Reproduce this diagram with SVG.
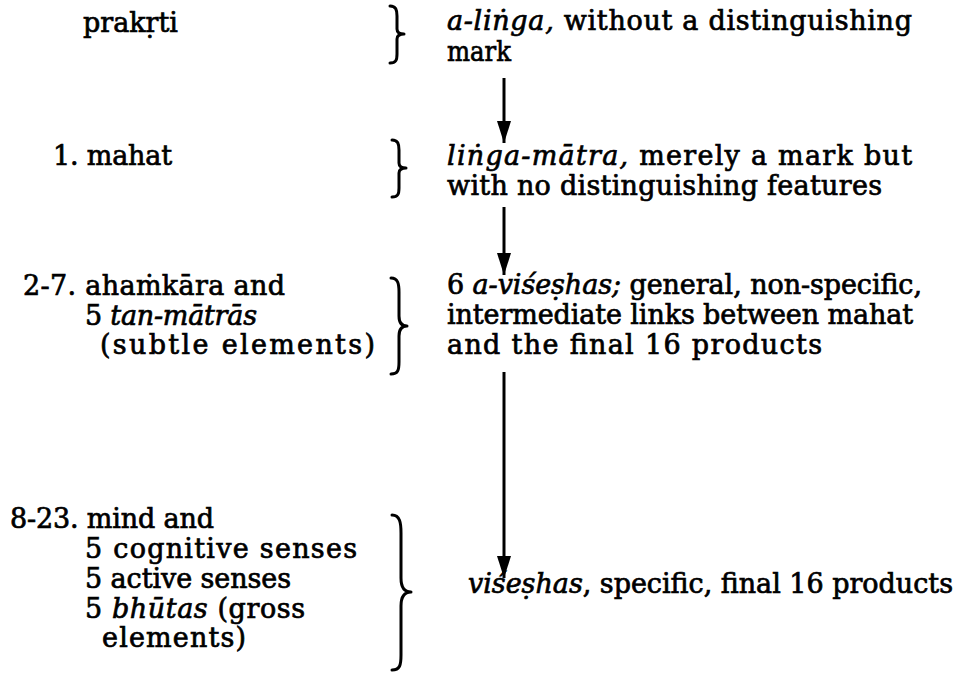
<svg xmlns="http://www.w3.org/2000/svg" width="962" height="674" viewBox="0 0 962 674">
<style>
  text { font-family: "DejaVu Serif", "Liberation Serif", serif; font-size: 27px; fill: #000; stroke: #000; stroke-width: 0.7; }
  .it { font-style: italic; }
  .brace { fill: none; stroke: #000; stroke-width: 3; stroke-linecap: round; stroke-linejoin: round; }
  .conn { stroke: #000; stroke-width: 3; fill: none; }
</style>
<defs>
  <marker id="ah" markerUnits="userSpaceOnUse" viewBox="0 0 22 14" refX="22" refY="7" markerWidth="22" markerHeight="14" orient="auto">
    <path d="M0,0 L22,7 L0,14 z" fill="#000"/>
  </marker>
</defs>
<rect width="962" height="674" fill="#fff"/>

<g id="left-prakrti">
  <text x="83" y="32" textLength="95">prakṛti</text>
  <path class="brace" d="M390,6 C396,6 397,10 397,16 L397,29 C397,32 399,34 404,34 C399,34 397,36 397,39 L397,54 C397,60 396,63 390,63"/>
</g>
<g id="left-mahat">
  <text x="53" y="165" textLength="119">1. mahat</text>
  <path class="brace" d="M392,140 C398,140 399,144 399,150 L399,163 C399,166 401,168 406,168 C401,168 399,170 399,173 L399,188 C399,194 398,197 392,197"/>
</g>
<g id="left-ahamkara">
  <text x="23" y="295" textLength="262">2-7. ahaṁkāra and</text>
  <text x="85" y="325" textLength="172">5 <tspan class="it">tan-mātrās</tspan></text>
  <text x="100" y="354" textLength="275">(subtle elements)</text>
  <path class="brace" d="M391,278 C398,278 399,284 399,292 L399,316 C399,322 401,326 407,326 C401,326 399,330 399,336 L399,362 C399,370 398,374 391,374"/>
</g>
<g id="left-mind">
  <text x="10" y="528" textLength="204">8-23. mind and</text>
  <text x="85" y="558" textLength="272">5 cognitive senses</text>
  <text x="85" y="588" textLength="206">5 active senses</text>
  <text x="85" y="618" textLength="220">5 <tspan class="it">bhūtas</tspan> (gross</text>
  <text x="102" y="647" textLength="144">elements)</text>
  <path class="brace" d="M392,515 C400,515 401,523 401,533 L401,578 C401,587 404,592 411,592 C404,592 401,597 401,606 L401,655 C401,665 400,670 392,670"/>
</g>

<g id="right-alinga">
  <text x="447" y="30" textLength="465"><tspan class="it">a-liṅga,</tspan> without a distinguishing</text>
  <text x="447" y="61" textLength="64" lengthAdjust="spacingAndGlyphs">mark</text>
</g>
<g id="right-lingamatra">
  <text x="447" y="165" textLength="465"><tspan class="it">liṅga-mātra,</tspan> merely a mark but</text>
  <text x="447" y="195" textLength="435">with no distinguishing features</text>
</g>
<g id="right-avisheshas">
  <text x="447" y="294" textLength="475">6 <tspan class="it">a-viśeṣhas;</tspan> general, non-specific,</text>
  <text x="447" y="324" textLength="466">intermediate links between mahat</text>
  <text x="447" y="354" textLength="375">and the final 16 products</text>
</g>
<g id="right-visheshas">
  <text x="468" y="593" textLength="485"><tspan class="it">viśeṣhas</tspan>, specific, final 16 products</text>
</g>

<g id="connectors">
  <line class="conn" x1="504" y1="78" x2="504" y2="143" marker-end="url(#ah)"/>
  <line class="conn" x1="504" y1="207" x2="504" y2="275" marker-end="url(#ah)"/>
  <line class="conn" x1="504" y1="372" x2="504" y2="578" marker-end="url(#ah)"/>
</g>
</svg>
